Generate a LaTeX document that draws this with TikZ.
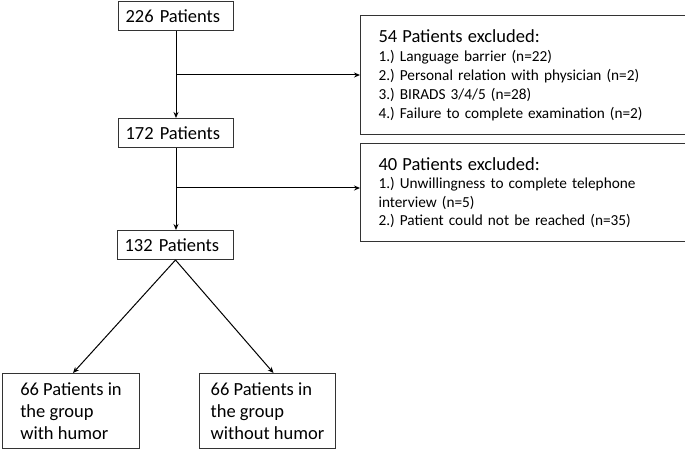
\documentclass[tikz,border=0pt]{standalone}
\usepackage{fontspec}
\setmainfont{Carlito}
\frenchspacing
\usetikzlibrary{arrows.meta}
\begin{document}
\begin{tikzpicture}[x=1pt,y=-1pt,
  box/.style={draw=black!80, line width=1pt, rectangle, anchor=north west, align=left, inner ysep=0pt},
  big/.style={font=\fontsize{18.5}{22}\selectfont},
  small/.style={font=\fontsize{15.3}{19}\selectfont},
  arr/.style={line width=1pt, -{Stealth[length=6pt,width=5pt]}}]
\useasboundingbox (0,0) rectangle (685,449);
\node[box, big, minimum width=115, minimum height=29, text width=101, inner xsep=7] (p226) at (118,1) {226 Patients};
\node[box, big, minimum width=115, minimum height=29, text width=101, inner xsep=7] (p172) at (118,118) {172 Patients};
\node[box, big, minimum width=116, minimum height=29, text width=102, inner xsep=7] (p132) at (117,230) {132 Patients};
\node[box, small, minimum width=324, minimum height=119, text width=290, inner xsep=18] (ex54) at (360,15)
  {{\fontsize{18.5}{19}\selectfont 54 Patients excluded:}\\
   1.) Language barrier (n=22)\\
   2.) Personal relation with physician (n=2)\\
   3.) BIRADS 3/4/5 (n=28)\\
   4.) Failure to complete examination (n=2)};
\node[box, small, minimum width=324, minimum height=98, text width=290, inner xsep=18, font=\fontsize{15.3}{18.5}\selectfont] (ex40) at (360,143)
  {{\fontsize{18.5}{18.5}\selectfont 40 Patients excluded:}\\
   1.) Unwillingness to complete telephone\\
   interview (n=5)\\
   2.) Patient could not be reached (n=35)};
\node[box, big, minimum width=137, minimum height=75, inner xsep=4] (g1) at (2,373)
  {66 Patients in\\the group\\with humor};
\node[box, big, minimum width=136, minimum height=75, inner xsep=4] (g2) at (199,373)
  {66 Patients in\\the group\\without humor};
\coordinate (b1) at (p226.south |- ex54.west);
\coordinate (b2) at (p226.south |- 0,188);
\draw[arr] (p226.south) -- (p172.north);
\draw[arr] (b1) -- (ex54.west);
\draw[arr] (p172.south) -- (p172.south |- p132.north);
\draw[arr] (b2) -- (ex40.west |- b2);
\draw[arr] (p132.south) -- ([xshift=2pt]g1.north);
\draw[arr] (p132.south) -- ([xshift=6pt]g2.north);
\end{tikzpicture}
\end{document}
